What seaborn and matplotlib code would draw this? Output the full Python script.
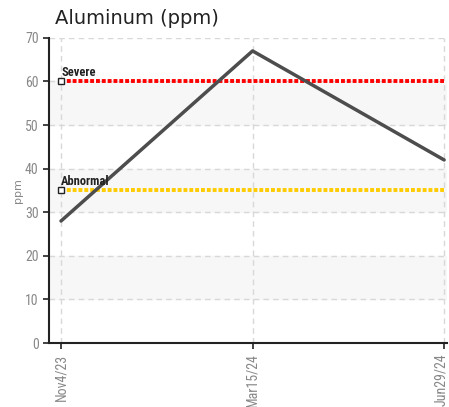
import numpy as np
import pandas as pd
import matplotlib
matplotlib.use("Agg")
import matplotlib.pyplot as plt
import matplotlib.transforms as mtransforms
import seaborn as sns
from matplotlib import font_manager

dates = ["Nov4/23", "Mar15/24", "Jun29/24"]
aluminum = [28, 67, 42]
limit_names = ["Severe", "Abnormal"]
limit_values = [60, 35]
limit_colors = ["#ff0000", "#ffcc00"]

sns.set_style("white")
names = {f.name for f in font_manager.fontManager.ttflist}
narrow = [n for n in ["Liberation Sans Narrow", "DejaVu Sans Condensed", "Roboto Condensed"] if n in names]
plt.rcParams["font.family"] = narrow + ["DejaVu Sans"]
tick_size = 10 if narrow else 8

df = pd.DataFrame({"pos": np.arange(len(dates)), "value": aluminum})

fig = plt.figure(figsize=(4.49, 4.07), dpi=100)
ax = fig.add_axes([0.109, 0.157, 0.887, 0.75])

# alternating bands
for lo in [10, 30, 50]:
    ax.axhspan(lo, lo + 10, color="#f7f7f7", zorder=0)

for y in range(10, 71, 10):
    ax.axhline(y, color="#d8d8d8", lw=1, ls=(0, (4, 3)), zorder=1)
for x in df["pos"]:
    ax.axvline(x, color="#d8d8d8", lw=1, ls=(0, (4, 3)), zorder=1)

for name, val, col in zip(limit_names, limit_values, limit_colors):
    ax.plot([0, 2], [val, val], color=col, lw=2.8, ls=(0, (1, 0.5)), zorder=2)
    ax.plot([0], [val], marker="s", ms=4, mfc="white", mec="#222222", mew=1, zorder=4)
    ax.text(0, val + 0.6, name, fontsize=tick_size - 1, color="#222222", ha="left",
            va="bottom", zorder=5, fontweight="bold")

sns.lineplot(data=df, x="pos", y="value", color="#4d4d4d", lw=2.5, ax=ax, zorder=3)

ax.set_xlim(-0.063, 2.016)
ax.set_ylim(0, 70)
ax.set_yticks(range(0, 71, 10))
ax.set_xticks(df["pos"])
ax.set_xticklabels(dates, rotation=90)
ax.tick_params(axis="both", colors="#222222", labelcolor="#888888", labelsize=tick_size,
               direction="out", length=4, width=1.2, left=True, bottom=True)
last = ax.get_xticklabels()[-1]
last.set_transform(last.get_transform() + mtransforms.ScaledTranslation(-3 / 100, 0, fig.dpi_scale_trans))
ax.set_xlabel("")
ax.set_ylabel("ppm", color="#888888", fontsize=8, family=["DejaVu Sans"])
ax.yaxis.set_label_coords(-0.065, 0.5)

for s in ["top", "right"]:
    ax.spines[s].set_visible(False)
for s in ["left", "bottom"]:
    ax.spines[s].set_color("#222222")
    ax.spines[s].set_linewidth(1.5)

fig.text(0.122, 0.955, "Aluminum (ppm)", fontsize=14, color="#222222",
         ha="left", va="center", family=["DejaVu Sans"])

fig.savefig("out.png", dpi=100)
